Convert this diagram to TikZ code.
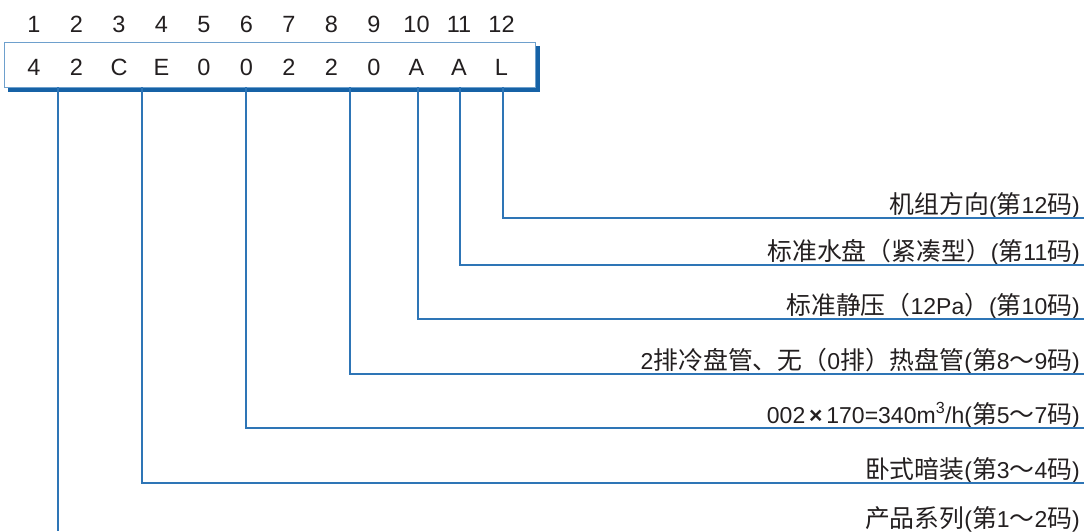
\documentclass[tikz,border=0pt]{standalone}
\usepackage{fontspec}
\setmainfont{Liberation Sans}
\newfontfamily\cjk[Scale=1.08]{Noto Sans CJK SC}
\usepackage{tikz}
\usetikzlibrary{positioning}
\definecolor{codeline}{RGB}{46,117,182}
\definecolor{codeframe}{RGB}{110,160,205}
\definecolor{codeshadow}{RGB}{22,98,166}
\definecolor{codetext}{RGB}{35,31,32}
\newcommand{\zh}[1]{{\cjk #1}}

\begin{document}
\begin{tikzpicture}[x=1pt,y=-1pt,
    idx/.style={inner sep=0pt,anchor=base,text=codetext,font=\fontsize{23.5}{26}\selectfont},
    digit/.style={idx},
    conn/.style={draw=codeline,line width=1.6pt},
    lbl/.style={anchor=base east,inner sep=0pt,text=codetext,font=\fontsize{23}{26}\selectfont}]
    \useasboundingbox (0,0) rectangle (1084,531);
    % code box with shadow
    \fill[codeshadow] (8,46) rectangle (540,92);
    \node[draw=codeframe,fill=white,line width=1.2pt,minimum width=531pt,minimum height=45pt,
      inner sep=0pt,anchor=north west] (box) at (4,42) {};
    \foreach \i/\c in {1/4,2/2,3/C,4/E,5/0,6/0,7/2,8/2,9/0,10/A,11/A,12/L}{
      \node[idx] (n\i) at ({34+42.5*(\i-1)},32) {\i};
      \node[digit] (d\i) at ({34+42.5*(\i-1)},75) {\c};
    }
    % labels
    \node[lbl] (l12) at (1080,213) {\zh{机组方向}(\zh{第}12\zh{码})};
    \node[lbl] (l11) at (1080,260) {\zh{标准水盘（紧凑型）}(\zh{第}11\zh{码})};
    \node[lbl] (l10) at (1080,314) {\zh{标准静压（}12Pa\zh{）}(\zh{第}10\zh{码})};
    \node[lbl] (l89) at (1080,369) {2\zh{排冷盘管、无（}0\zh{排）热盘管}(\zh{第}8\zh{～}9\zh{码})};
    \node[lbl] (l57) at (1080,423) {002\,{\bfseries ×}\,170=340m\textsuperscript{3}/h(\zh{第}5\zh{～}7\zh{码})};
    \node[lbl] (l34) at (1080,478) {\zh{卧式暗装}(\zh{第}3\zh{～}4\zh{码})};
    \node[lbl] (l12s) at (1080,527) {\zh{产品系列}(\zh{第}1\zh{～}2\zh{码})};
    % connectors
    \coordinate (t12) at (503,87);  \coordinate (e12) at (1084,218);
    \coordinate (t11) at (460,87);  \coordinate (e11) at (1084,265);
    \coordinate (t10) at (418,87);  \coordinate (e10) at (1084,319);
    \coordinate (t89) at (350,87);  \coordinate (e89) at (1084,374);
    \coordinate (t57) at (246,87);  \coordinate (e57) at (1084,428);
    \coordinate (t34) at (142,87);  \coordinate (e34) at (1084,483);
    \coordinate (t12s) at (58,87);  \coordinate (e12s) at (58,531);
    \draw[conn] (t12) |- (e12);
    \draw[conn] (t11) |- (e11);
    \draw[conn] (t10) |- (e10);
    \draw[conn] (t89) |- (e89);
    \draw[conn] (t57) |- (e57);
    \draw[conn] (t34) |- (e34);
    \draw[conn] (t12s) -- (e12s);
\end{tikzpicture}
\end{document}
